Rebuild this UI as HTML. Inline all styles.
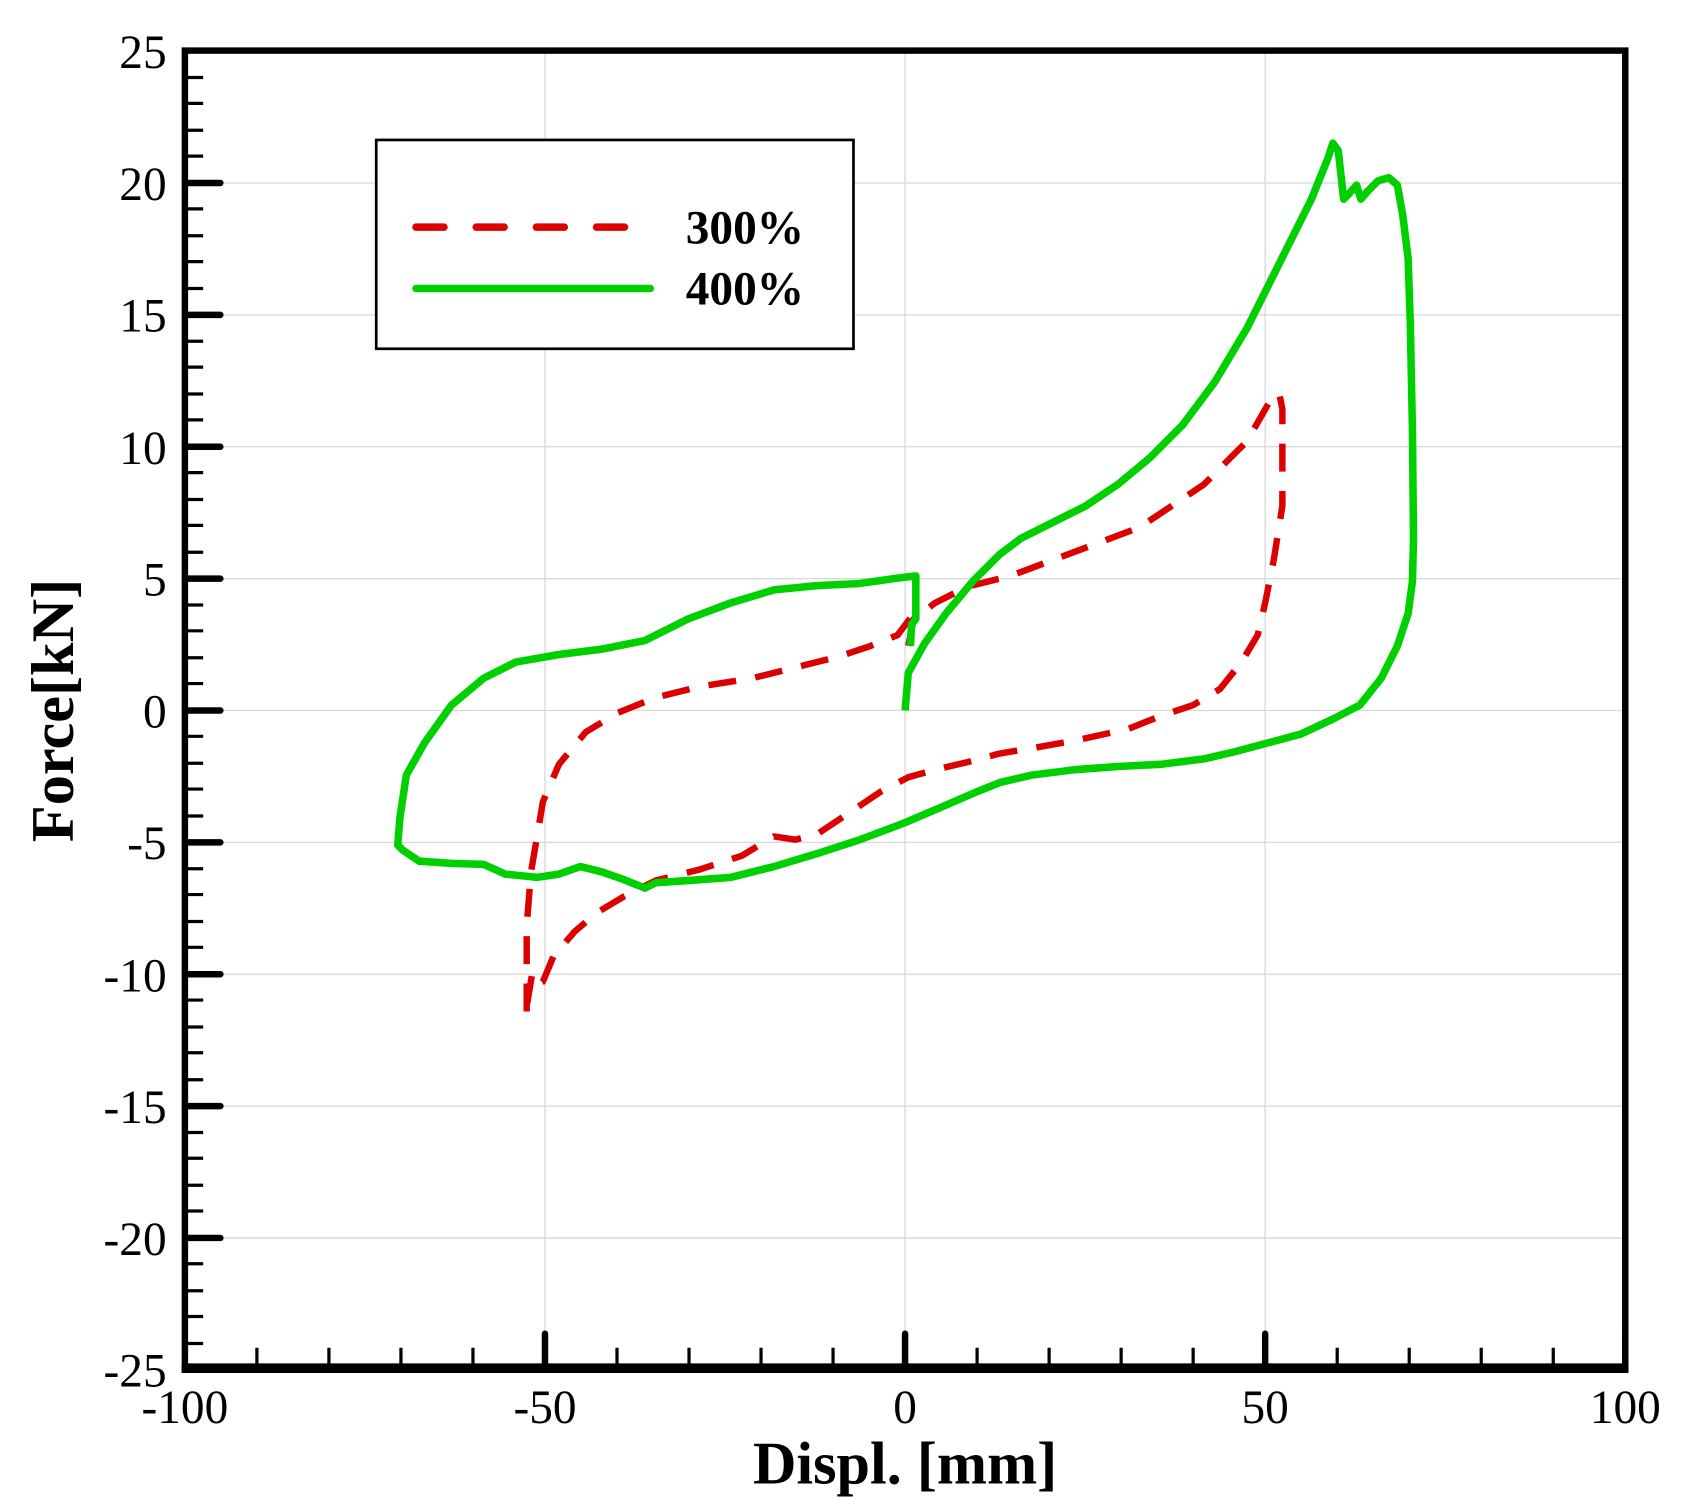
<!DOCTYPE html>
<html><head><meta charset="utf-8"><style>
html,body{margin:0;padding:0;background:#fff;}
svg{display:block;}
text{font-family:"Liberation Serif",serif;}
</style></head><body>
<svg width="1686" height="1506" viewBox="0 0 1568.5 1399" preserveAspectRatio="none" xmlns="http://www.w3.org/2000/svg">
<rect width="1570" height="1400" fill="#fff"/>
<g stroke="#d8d8d8" stroke-width="1.2">
<line x1="507" y1="47" x2="507" y2="1272"/>
<line x1="842" y1="47" x2="842" y2="1272"/>
<line x1="1177" y1="47" x2="1177" y2="1272"/>
<line x1="172" y1="170" x2="1512" y2="170"/>
<line x1="172" y1="292.5" x2="1512" y2="292.5"/>
<line x1="172" y1="415" x2="1512" y2="415"/>
<line x1="172" y1="537.5" x2="1512" y2="537.5"/>
<line x1="172" y1="660" x2="1512" y2="660"/>
<line x1="172" y1="782.5" x2="1512" y2="782.5"/>
<line x1="172" y1="905" x2="1512" y2="905"/>
<line x1="172" y1="1027.5" x2="1512" y2="1027.5"/>
<line x1="172" y1="1150" x2="1512" y2="1150"/>
</g>
<g stroke="#000" stroke-width="3">
<path d="M172 72h17M172 96h17M172 121h17M172 145h17M172 194h17M172 219h17M172 243h17M172 268h17M172 317h17M172 341h17M172 366h17M172 390h17M172 439h17M172 464h17M172 488h17M172 513h17M172 562h17M172 586h17M172 611h17M172 635h17M172 684h17M172 709h17M172 733h17M172 758h17M172 807h17M172 831h17M172 856h17M172 880h17M172 929h17M172 954h17M172 978h17M172 1003h17M172 1052h17M172 1076h17M172 1101h17M172 1125h17M172 1174h17M172 1199h17M172 1223h17M172 1248h17"/>
<path d="M239 1272v-20M306 1272v-20M373 1272v-20M440 1272v-20M574 1272v-20M641 1272v-20M708 1272v-20M775 1272v-20M909 1272v-20M976 1272v-20M1043 1272v-20M1110 1272v-20M1244 1272v-20M1311 1272v-20M1378 1272v-20M1445 1272v-20"/>
</g>
<g stroke="#000" stroke-width="6" stroke-linecap="round">
<path d="M172 170h33M172 292.5h33M172 415h33M172 537.5h33M172 660h33M172 782.5h33M172 905h33M172 1027.5h33M172 1150h33"/>
<path d="M507 1272v-33M842 1272v-33M1177 1272v-33M1512 1272v-33"/>
</g>
<rect x="172" y="47" width="1340" height="1225" fill="none" stroke="#000" stroke-width="6"/>
<line x1="169" y1="1271" x2="1515" y2="1271" stroke="#000" stroke-width="9"/>
<path fill="none" stroke="#dd0000" stroke-width="6" stroke-dasharray="26,18" stroke-linejoin="round" d="M845 600 L850 575 870 560 900 545 940 535 980 520 1020 505 1060 490 1090 470 1120 450 1140 430 1160 410 1180 375 1190 365 1193 380 1193 470 1185 520 1177 560 1170 590 1155 615 1135 640 1110 655 1080 665 1050 677 1000 688 960 695 930 700 900 708 870 715 845 722 820 735 790 755 760 775 740 780 720 777 690 795 650 808 610 818 580 833 555 848 535 865 515 888 505 912 500 915 495 905 490 935 490 945 490 860 494 810 500 775 505 745 520 710 545 680 575 662 610 648 650 638 700 630 740 620 780 610 810 600 835 590 850 570"/>
<path fill="none" stroke="#00d000" stroke-width="7" stroke-linejoin="round" d="M842 660 L845 625 860 598 880 570 905 540 930 515 950 500 980 485 1010 470 1040 450 1070 425 1100 395 1130 355 1160 305 1180 265 1200 225 1220 185 1235 148 1240 133 1245 140 1250 185 1255 180 1262 172 1266 185 1272 178 1282 168 1292 165 1300 172 1305 200 1310 240 1312 300 1314 400 1315 500 1314 540 1310 570 1300 600 1285 630 1265 655 1240 668 1210 682 1180 690 1150 698 1120 705 1080 710 1040 712 1000 715 960 720 930 727 910 735 880 748 840 765 800 780 760 793 720 805 680 815 640 818 610 820 600 825 580 817 560 810 540 805 520 812 500 815 470 812 450 803 420 802 390 800 375 790 370 785 372 760 378 720 395 690 420 655 450 630 480 615 520 608 560 603 600 595 640 575 680 560 720 548 760 544 800 542 835 537 852 535 852 575 848 580 847 600"/>
<rect x="350" y="130" width="444" height="194" fill="#fff" stroke="#000" stroke-width="2.5"/>
<line x1="387" y1="211" x2="605" y2="211" stroke="#dd0000" stroke-width="7" stroke-dasharray="26,30" stroke-linecap="round"/>
<line x1="387" y1="268" x2="605" y2="268" stroke="#00d000" stroke-width="7" stroke-linecap="round"/>
<text x="638" y="226" font-size="44" font-weight="bold">300%</text>
<text x="638" y="283" font-size="44" font-weight="bold">400%</text>
<g font-size="44" text-anchor="end">
<text x="155" y="63">25</text>
<text x="155" y="186">20</text>
<text x="155" y="308">15</text>
<text x="155" y="431">10</text>
<text x="155" y="553">5</text>
<text x="155" y="676">0</text>
<text x="155" y="798">-5</text>
<text x="155" y="921">-10</text>
<text x="155" y="1043">-15</text>
<text x="155" y="1166">-20</text>
<text x="155" y="1288">-25</text>
</g>
<g font-size="44" text-anchor="middle">
<text x="172" y="1322">-100</text>
<text x="507" y="1322">-50</text>
<text x="842" y="1322">0</text>
<text x="1177" y="1322">50</text>
<text x="1512" y="1322">100</text>
</g>
<text x="842" y="1378" font-size="56" font-weight="bold" text-anchor="middle">Displ. [mm]</text>
<text transform="translate(68,660) rotate(-90)" font-size="56" font-weight="bold" text-anchor="middle">Force[kN]</text>
</svg>
</body></html>
